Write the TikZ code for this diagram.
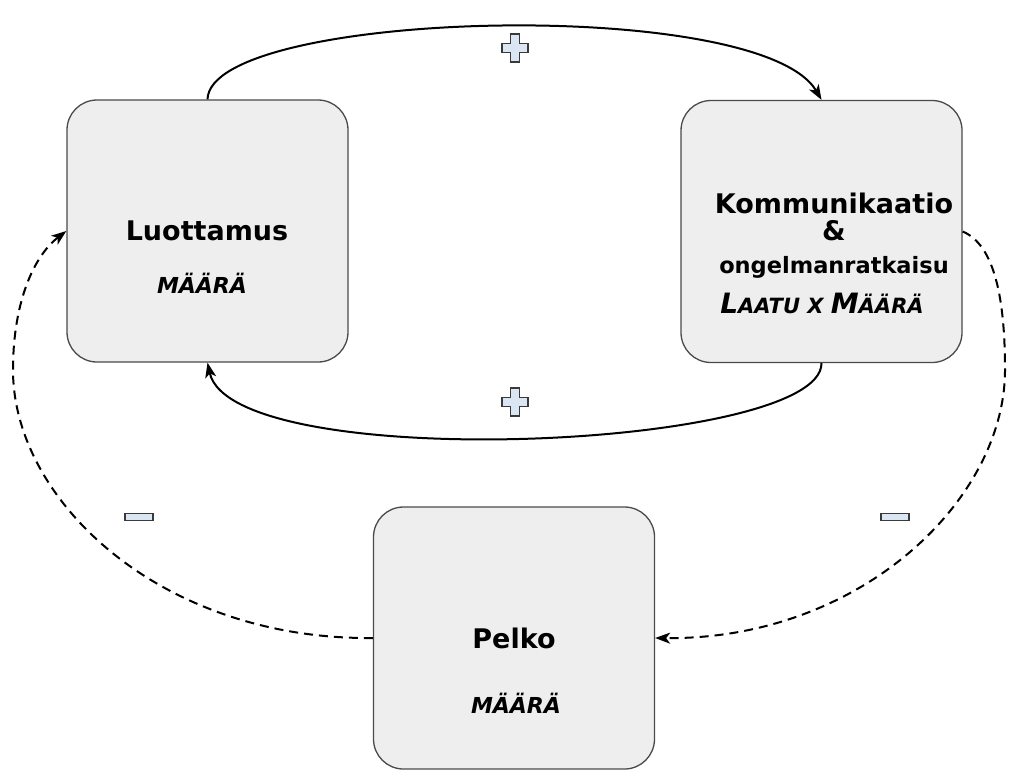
\documentclass[tikz,border=0pt]{standalone}
\usepackage{fontspec}
\setmainfont{DejaVu Sans}
\usetikzlibrary{arrows.meta}

\definecolor{boxfill}{HTML}{EEEEEE}
\definecolor{boxline}{HTML}{4A4A4A}
\definecolor{signfill}{HTML}{DAE6F4}
\definecolor{signline}{HTML}{3A3A3A}

% Title lettering and the hand-written quantity labels
\newcommand{\titlefont}{\fontsize{27}{30}\selectfont\bfseries}
\newcommand{\subfont}{\fontsize{22.5}{26}\selectfont\bfseries}
\newcommand{\handfont}{\bfseries\itshape}

\tikzset{
  stagebox/.style={draw=boxline, fill=boxfill, line width=1.3pt,
    rounded corners=30pt, minimum width=281pt, minimum height=262pt,
    inner sep=0pt},
  label/.style={anchor=base, inner sep=0pt, text=black},
  flow/.style={line width=2pt, black,
    -{Stealth[length=15pt, width=11pt, inset=4pt]}},
  damp/.style={flow, dash pattern=on 9pt off 6pt},
  minusbox/.style={draw=signline, fill=signfill, line width=1.1pt,
    minimum width=28pt, minimum height=7pt, inner sep=0pt},
  pics/plussign/.style={code={
    \draw[draw=signline, fill=signfill, line width=1.1pt]
      (-4.5,-14) -- (4.5,-14) -- (4.5,-4.5) -- (13,-4.5) -- (13,4.5)
      -- (4.5,4.5) -- (4.5,14) -- (-4.5,14) -- (-4.5,4.5) -- (-13,4.5)
      -- (-13,-4.5) -- (-4.5,-4.5) -- cycle;
  }}
}

\begin{document}
\begin{tikzpicture}[x=1pt, y=-1pt]
  \useasboundingbox (0,0) rectangle (1011,769);

  % the three stages
  \node[stagebox] (lu) at (207.5,231) {};
  \node[stagebox] (ko) at (821.5,231.5) {};
  \node[stagebox] (pe) at (514,638) {};

  % stage texts
  \node[label] (luname) at (207,240) {\titlefont Luottamus};
  \node[label] (luqty) at (202,293) {\fontsize{22}{24}\selectfont\handfont MÄÄRÄ};

  \node[label] (koname) at (834,213) {\titlefont Kommunikaatio};
  \node[label] (koamp) at (834,240) {\titlefont \&};
  \node[label] (kosub) at (834,273) {\subfont ongelmanratkaisu};
  \node[label] (koqty) at (822,313) {\handfont
    {\fontsize{28}{24}\selectfont L}{\fontsize{21}{24}\selectfont AATU X }{\fontsize{28}{24}\selectfont M}{\fontsize{21}{24}\selectfont ÄÄRÄ}};

  \node[label] (pename) at (514,648) {\titlefont Pelko};
  \node[label] (peqty) at (516,713) {\fontsize{22}{24}\selectfont\handfont MÄÄRÄ};

  % reinforcing loop
  \draw[flow] (lu.north) .. controls (210,10) and (760,-5) .. (ko.north);
  \draw[flow] (ko.south) .. controls (822,450) and (232,475) .. (lu.south);

  % dampening links through fear
  \draw[damp] (pe.west) .. controls (160,640) and (13,500) .. (13,370)
    .. controls (13,300) and (35,255) .. (lu.west);
  \draw[damp] (ko.east) .. controls (995,245) and (1005,300) .. (1005,370)
    .. controls (1005,500) and (860,640) .. (pe.east);

  % polarity signs
  \pic at (515,48) {plussign};
  \pic at (515,402) {plussign};
  \node[minusbox] (mleft) at (139,517) {};
  \node[minusbox] (mright) at (895,517) {};
\end{tikzpicture}
\end{document}
